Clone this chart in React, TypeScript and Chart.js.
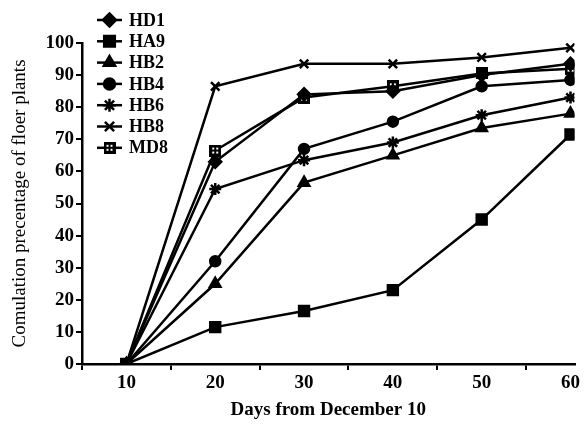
import React, { useEffect, useRef } from "react";
import { Chart, registerables } from "chart.js";
import { drawPoint } from "chart.js/helpers";

Chart.register(...registerables);

const days = [10, 20, 30, 40, 50, 60];
const seriesNames = ["HD1", "HA9", "HB2", "HB4", "HB6", "HB8", "MD8"];
const HD1 = [0, 63, 84, 85, 90, 93.5];
const HA9 = [0, 11.5, 16.5, 23, 45, 71.5];
const HB2 = [0, 25, 56.5, 65, 73.5, 78];
const HB4 = [0, 32, 67, 75.5, 86.5, 88.5];
const HB6 = [0, 54.5, 63.5, 69, 77.5, 83];
const HB8 = [0, 86.5, 93.5, 93.5, 95.5, 98.5];
const MD8 = [0, 66.5, 83, 86.5, 90.5, 92];
const yTicks = [0, 10, 20, 30, 40, 50, 60, 70, 80, 90, 100];

const SERIF = "'Times New Roman', 'Liberation Serif', serif";

function makeBoxCross(): HTMLCanvasElement {
  const c = document.createElement("canvas");
  c.width = 12;
  c.height = 12;
  const g = c.getContext("2d")!;
  g.fillStyle = "#000";
  g.fillRect(0, 0, 12, 12);
  g.fillStyle = "#fff";
  g.fillRect(3, 3, 2, 2);
  g.fillRect(7, 3, 2, 2);
  g.fillRect(3, 7, 2, 2);
  g.fillRect(7, 7, 2, 2);
  return c;
}

const innerLegend = {
  id: "innerLegend",
  afterDraw(chart: any) {
    const ctx = chart.ctx;
    ctx.save();
    chart.data.datasets.forEach((ds: any, i: number) => {
      const y = 20 + i * 21.3;
      ctx.strokeStyle = "#000";
      ctx.fillStyle = "#000";
      ctx.lineWidth = 2.5;
      ctx.beginPath();
      ctx.moveTo(97, y);
      ctx.lineTo(122, y);
      ctx.stroke();
      ctx.lineWidth = 2.5;
      drawPoint(ctx, { pointStyle: ds.pointStyle, radius: ds.pointRadius + 0.5, borderWidth: 2.5, rotation: 0 }, 109.5, y);
      ctx.fillStyle = "#000";
      ctx.font = `bold 18px ${SERIF}`;
      ctx.textBaseline = "middle";
      ctx.textAlign = "left";
      ctx.fillText(ds.label, 129, y + 1);
    });
    ctx.restore();
  },
};

export default function App() {
  const ref = useRef<HTMLCanvasElement>(null);
  useEffect(() => {
    document.body.style.margin = "0";
    const box = makeBoxCross();
    const all = [HD1, HA9, HB2, HB4, HB6, HB8, MD8];
    const styles: any[] = ["rectRot", "rect", "triangle", "circle", "star", "crossRot", box];
    const radii = [6, 7, 6, 5, 6, 6, 6];
    const chart = new Chart(ref.current!, {
      type: "line",
      data: {
        datasets: all.map((arr, i) => ({
          label: seriesNames[i],
          data: arr.map((v, j) => ({ x: days[j], y: v })),
          borderColor: "#000",
          backgroundColor: "#000",
          borderWidth: 2.5,
          pointStyle: styles[i],
          pointRadius: radii[i],
          pointBorderWidth: 2.5,
          pointBackgroundColor: "#000",
          pointBorderColor: "#000",
          tension: 0,
        })),
      },
      options: {
        responsive: false,
        animation: false,
        layout: { padding: { top: 43, right: 4, left: 0, bottom: 0 } },
        plugins: { legend: { display: false }, tooltip: { enabled: false } },
        scales: {
          x: {
            type: "linear",
            min: 5,
            max: 60.45,
            afterBuildTicks: (s: any) => {
              s.ticks = days.map((v) => ({ value: v }));
            },
            afterFit: (s: any) => {
              s.height = 61;
            },
            grid: { display: true, drawOnChartArea: false, offset: true, tickLength: 6, color: "#000", lineWidth: 2 },
            border: { display: true, color: "#000", width: 2.5 },
            ticks: { color: "#000", font: { family: SERIF, size: 19, weight: "bold" }, padding: 2, maxRotation: 0 },
            title: { display: true, text: "Days from December 10", color: "#000", font: { family: SERIF, size: 19, weight: "bold" }, padding: { top: 0, bottom: 4 } },
          },
          y: {
            min: 0,
            max: 100,
            afterBuildTicks: (s: any) => {
              s.ticks = yTicks.map((v) => ({ value: v }));
            },
            afterFit: (s: any) => {
              s.width = 82;
            },
            grid: { display: true, drawOnChartArea: false, tickLength: 6, color: "#000", lineWidth: 2 },
            border: { display: true, color: "#000", width: 2.5 },
            ticks: { color: "#000", font: { family: SERIF, size: 19, weight: "bold" }, padding: 2 },
            title: { display: true, text: "Comulation precentage of floer plants", color: "#000", font: { family: SERIF, size: 19 }, padding: { top: 9, bottom: 0 } },
          },
        },
      },
      plugins: [innerLegend],
    });
    return () => chart.destroy();
  }, []);
  return <canvas ref={ref} width={584} height={425} />;
}
